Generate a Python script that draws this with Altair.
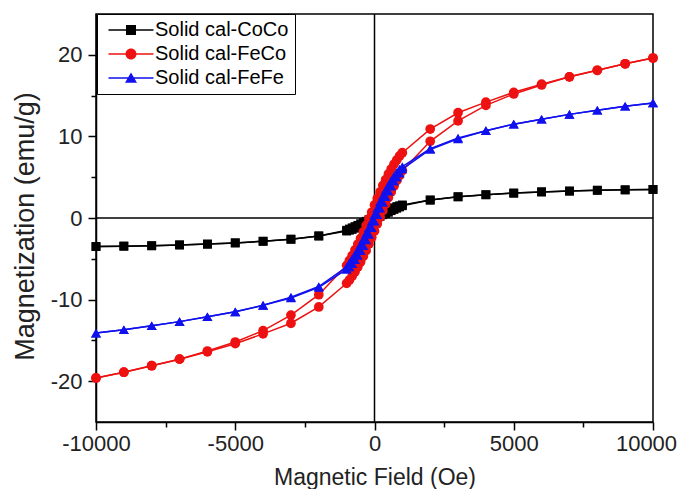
import altair as alt
import pandas as pd

SERIES = ["Solid cal-CoCo", "Solid cal-FeCo", "Solid cal-FeFe"]
COLORS = ["#000000", "#ee1111", "#1111ee"]
SHAPES = ["square", "circle", "triangle-up"]
SIZES = [78, 95, 100]

# Field values for each branch (Oe)
H_DOWN = [10000, 9000, 8000, 7000, 6000, 5000, 4000, 3000, 2000, 1000,
          900, 800, 700, 600, 500, 400, 300, 200, 100, 0,
          -100, -200, -300, -400, -500, -600, -700, -800, -900,
          -1000, -2000, -3000, -4000, -5000, -6000, -7000, -8000, -9000, -10000]
H_UP = [-10000, -9000, -8000, -7000, -6000, -5000, -4000, -3000, -2000, -1000,
        -900, -800, -700, -600, -500, -400, -300, -200, -100, 0,
        100, 200, 300, 400, 500, 600, 700, 800, 900,
        1000, 2000, 3000, 4000, 5000, 6000, 7000, 8000, 9000, 10000]

# Magnetization (emu/g)
COCO_DOWN = [3.5, 3.45, 3.4, 3.3, 3.2, 3.05, 2.85, 2.6, 2.2, 1.6,
             1.5, 1.4, 1.25, 1.1, 0.95, 0.8, 0.6, 0.45, 0.3, 0.15,
             -0.05, -0.2, -0.4, -0.55, -0.7, -0.9, -1.05, -1.2, -1.35,
             -1.5, -2.2, -2.6, -2.85, -3.05, -3.2, -3.3, -3.4, -3.45, -3.5]
COCO_UP = [-3.5, -3.45, -3.4, -3.3, -3.2, -3.05, -2.85, -2.6, -2.2, -1.6,
           -1.5, -1.4, -1.25, -1.1, -0.95, -0.8, -0.6, -0.45, -0.3, -0.15,
           0.05, 0.2, 0.4, 0.55, 0.7, 0.9, 1.05, 1.2, 1.35,
           1.5, 2.2, 2.6, 2.85, 3.05, 3.2, 3.3, 3.4, 3.45, 3.5]

FECO_DOWN = [19.6, 18.9, 18.1, 17.3, 16.4, 15.4, 14.2, 12.9, 10.9, 8.0,
             7.6, 7.1, 6.6, 6.0, 5.4, 4.7, 4.0, 3.2, 2.4, 1.6,
             0.7, -0.1, -0.9, -1.7, -2.5, -3.2, -3.9, -4.6, -5.2,
             -5.8, -9.4, -11.9, -13.8, -15.2, -16.3, -17.3, -18.1, -18.9, -19.6]
FECO_UP = [-19.6, -18.9, -18.1, -17.3, -16.4, -15.4, -14.2, -12.9, -10.9, -8.0,
           -7.6, -7.1, -6.6, -6.0, -5.4, -4.7, -4.0, -3.2, -2.4, -1.6,
           -0.7, 0.1, 0.9, 1.7, 2.5, 3.2, 3.9, 4.6, 5.2,
           5.8, 9.4, 11.9, 13.8, 15.2, 16.3, 17.3, 18.1, 18.9, 19.6]

FEFE_DOWN = [14.1, 13.7, 13.2, 12.7, 12.1, 11.5, 10.7, 9.8, 8.5, 6.3,
             6.0, 5.6, 5.1, 4.6, 4.0, 3.4, 2.7, 2.0, 1.2, 0.4,
             -0.4, -1.2, -1.9, -2.6, -3.3, -3.9, -4.5, -5.0, -5.5,
             -6.0, -8.4, -9.7, -10.7, -11.5, -12.1, -12.7, -13.2, -13.7, -14.1]
FEFE_UP = [-14.1, -13.7, -13.2, -12.7, -12.1, -11.5, -10.7, -9.8, -8.5, -6.3,
           -6.0, -5.6, -5.1, -4.6, -4.0, -3.4, -2.7, -2.0, -1.2, -0.4,
           0.4, 1.2, 1.9, 2.6, 3.3, 3.9, 4.5, 5.0, 5.5,
           6.0, 8.4, 9.7, 10.7, 11.5, 12.1, 12.7, 13.2, 13.7, 14.1]

X_TICKS = [-10000, -7500, -5000, -2500, 0, 2500, 5000, 7500, 10000]
Y_TICKS = [-20, -15, -10, -5, 0, 5, 10, 15, 20]

# legend symbols: marker with a line through it (unit coords, filled)
LEGEND_PATHS = [
    "M-4.5,-0.15H4.5V0.15H-4.5Z M-1,-1H1V1H-1Z",
    "M-4.5,-0.15H4.5V0.15H-4.5Z M-1.1,0A1.1,1.1 0 1,1 1.1,0A1.1,1.1 0 1,1 -1.1,0Z",
    "M-4.5,-0.15H4.5V0.15H-4.5Z M0,-1.1L1.2,0.95H-1.2Z",
]

rows = []
for name, down, up in zip(SERIES, [COCO_DOWN, FECO_DOWN, FEFE_DOWN], [COCO_UP, FECO_UP, FEFE_UP]):
    for i, (h, m) in enumerate(zip(H_DOWN, down)):
        rows.append({"series": name, "branch": "down", "idx": i, "H": h, "M": m})
    for i, (h, m) in enumerate(zip(H_UP, up)):
        rows.append({"series": name, "branch": "up", "idx": i, "H": h, "M": m})
df = pd.DataFrame(rows)

FONT = "Liberation Sans"

x_scale = alt.Scale(domain=[-10000, 10000], nice=False, zero=False)
y_scale = alt.Scale(domain=[-25, 25], nice=False, zero=False)

x_axis = alt.Axis(
    values=X_TICKS,
    labelExpr="datum.value % 5000 == 0 ? '' + datum.value : ''",
    tickSize={"condition": {"test": "datum.value % 5000 == 0", "value": 8}, "value": 5},
    labelOffset={"condition": {"test": "datum.value == 10000", "value": -7}, "value": 0},
    labelFontSize=22, labelPadding=3, title="Magnetic Field (Oe)",
    titleFontSize=23, titlePadding=12, labelFlush=False,
)
y_axis = alt.Axis(
    values=Y_TICKS,
    labelExpr="datum.value % 10 == 0 ? '' + datum.value : ''",
    tickSize={"condition": {"test": "datum.value % 10 == 0", "value": 8}, "value": 5},
    labelFontSize=22, labelPadding=6, title="Magnetization (emu/g)",
    titleFontSize=27, titleX=-57, titleY=212, titleBaseline="bottom",
    labelFlush=False,
)

base_x = alt.X("H:Q", scale=x_scale, axis=x_axis)
base_y = alt.Y("M:Q", scale=y_scale, axis=y_axis)

zero_v = alt.Chart(pd.DataFrame({"H": [0]})).mark_rule(color="black", strokeWidth=1.5).encode(
    x=alt.X("H:Q", scale=x_scale, axis=x_axis))
zero_h = alt.Chart(pd.DataFrame({"M": [0]})).mark_rule(color="black", strokeWidth=1.5).encode(
    y=alt.Y("M:Q", scale=y_scale, axis=y_axis))

layers = [zero_v, zero_h]
for name, color, shape, size in zip(SERIES, COLORS, SHAPES, SIZES):
    sub = alt.Chart(df).transform_filter(alt.datum.series == name)
    line = sub.mark_line(color=color, strokeWidth=1.5).encode(
        x=base_x, y=base_y, detail="branch:N", order="idx:Q")
    pts = sub.mark_point(color=color, shape=shape, size=size, filled=True, opacity=1).encode(
        x=base_x, y=base_y)
    layers += [line, pts]

legend = alt.Legend(
    title=None, orient="none", legendX=1, legendY=0,
    strokeColor="black", fillColor="white", padding=6,
    labelFontSize=20, labelFont=FONT, labelColor="black",
    symbolSize=100, symbolOffset=18, labelOffset=14, rowPadding=4,
    symbolStrokeWidth=0,
)
legend_layer = alt.Chart(pd.DataFrame({"series": SERIES})).mark_point(
    filled=True, opacity=1, clip=True).encode(
    x=alt.value(-300), y=alt.value(-300),
    color=alt.Color("series:N", scale=alt.Scale(domain=SERIES, range=COLORS), legend=legend),
    shape=alt.Shape("series:N", scale=alt.Scale(domain=SERIES, range=LEGEND_PATHS), legend=legend),
)
layers.append(legend_layer)

chart = alt.layer(*layers).properties(
    width=557, height=408,
    autosize=alt.AutoSizeParams(type="none"),
    padding={"left": 88, "top": 6, "right": 24, "bottom": 67},
).configure_view(stroke="black", strokeWidth=1.5).configure_axis(
    domainColor="black", domainWidth=1.5, tickColor="black", tickWidth=1.5,
    labelColor="#222222", titleColor="#222222", grid=False,
    labelFont=FONT, titleFont=FONT, titleFontWeight="normal",
)

chart.save("out.html", embed_options={"renderer": "svg", "actions": False})
